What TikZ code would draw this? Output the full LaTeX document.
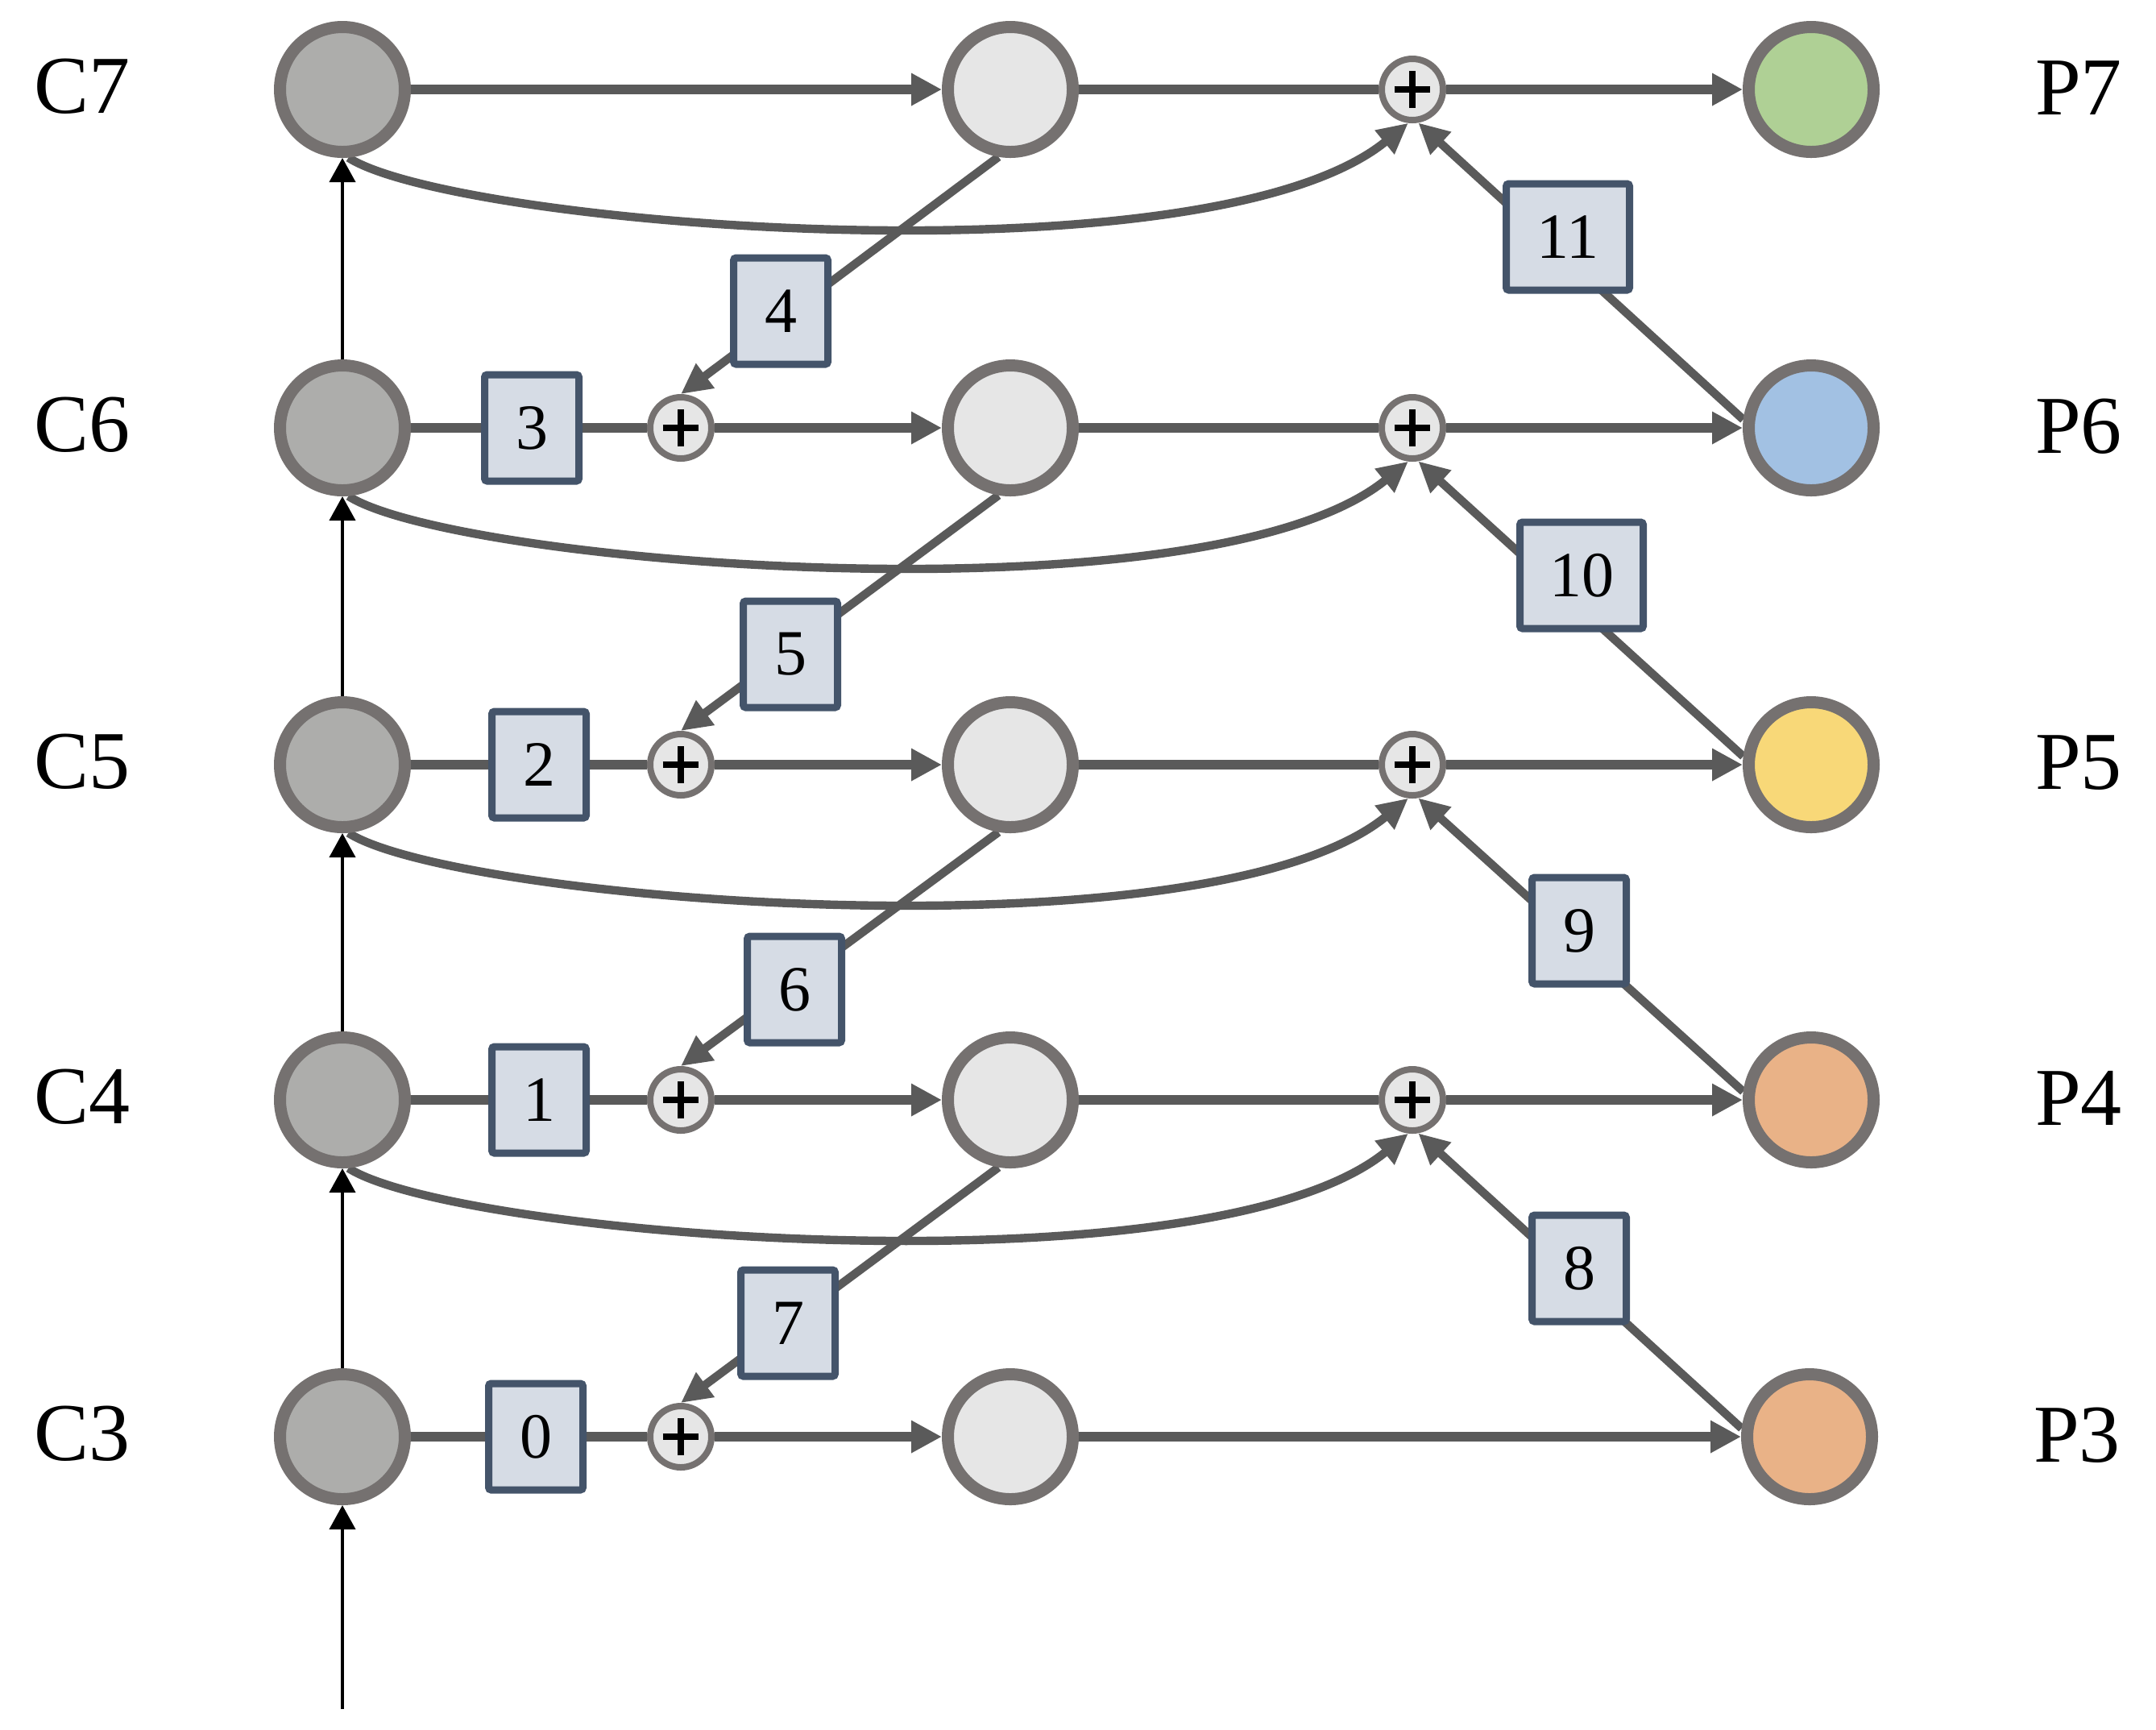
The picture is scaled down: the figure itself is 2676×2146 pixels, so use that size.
\documentclass[tikz,border=0pt]{standalone}
\usepackage{fontspec}
\setmainfont{Liberation Serif}
\usetikzlibrary{arrows.meta}
\pgfdeclarelayer{bg}
\pgfsetlayers{bg,main}
\definecolor{ring}{HTML}{757170}
\definecolor{cgray}{HTML}{ADADAB}
\definecolor{lgray}{HTML}{E6E6E6}
\definecolor{lc}{HTML}{5A5A5A}
\definecolor{boxb}{HTML}{44546A}
\definecolor{boxf}{HTML}{D6DCE5}
\definecolor{pgreen}{HTML}{AFD095}
\definecolor{pblue}{HTML}{A2C1E3}
\definecolor{pyellow}{HTML}{F8D878}
\definecolor{porange}{HTML}{E9B287}
\begin{document}
\begin{tikzpicture}[x=0.25pt,y=-0.25pt,
  cnode/.style={circle,draw=ring,line width=3.75pt,minimum size=38.75pt,inner sep=0pt},
  cfill/.style={cnode,fill=cgray},
  mfill/.style={cnode,fill=lgray},
  sumnode/.style={circle,draw=ring,fill=lgray,line width=2pt,minimum size=19pt,inner sep=0pt,
    path picture={
      \draw[black,line width=2pt] ([xshift=-5.6pt]path picture bounding box.center) -- ([xshift=5.6pt]path picture bounding box.center);
      \draw[black,line width=2pt] ([yshift=-5.8pt]path picture bounding box.center) -- ([yshift=5.8pt]path picture bounding box.center);}},
  numbox/.style={draw=boxb,fill=boxf,line width=2.25pt,minimum width=29.25pt,minimum height=33pt,inner sep=0pt,rounded corners=0.8pt,font=\fontsize{20}{21}\selectfont},
  wbox/.style={numbox,minimum width=38.25pt},
  lab/.style={font=\fontsize{25.5}{26}\selectfont,inner sep=0pt},
  conn/.style={draw=lc,line width=2.9pt},
  arr/.style={conn,-{Triangle[length=9.5pt,width=9.5pt]}},
  dconn/.style={draw=lc,line width=2.6pt,-{Triangle[length=9.5pt,width=9pt]}},
  uparr/.style={draw=black,line width=1pt,-{Triangle[length=7.5pt,width=8pt]}},
]
\useasboundingbox (0,0) rectangle (2676,2146);

% rows: 111, 531, 949, 1365, 1783
\node[cfill] (c7) at (425,111) {};
\node[cfill] (c6) at (425,531) {};
\node[cfill] (c5) at (425,949) {};
\node[cfill] (c4) at (425,1365) {};
\node[cfill] (c3) at (425,1783) {};

\node[mfill] (m7) at (1254,111) {};
\node[mfill] (m6) at (1254,531) {};
\node[mfill] (m5) at (1254,949) {};
\node[mfill] (m4) at (1254,1365) {};
\node[mfill] (m3) at (1254,1783) {};

\node[sumnode] (pl6) at (845,531) {};
\node[sumnode] (pl5) at (845,949) {};
\node[sumnode] (pl4) at (845,1365) {};
\node[sumnode] (pl3) at (845,1783) {};

\node[sumnode] (rp7) at (1753,111) {};
\node[sumnode] (rp6) at (1753,531) {};
\node[sumnode] (rp5) at (1753,949) {};
\node[sumnode] (rp4) at (1753,1365) {};

\node[cnode,fill=pgreen] (p7) at (2248,111) {};
\node[cnode,fill=pblue] (p6) at (2248,531) {};
\node[cnode,fill=pyellow] (p5) at (2248,949) {};
\node[cnode,fill=porange] (p4) at (2248,1365) {};
\node[cnode,fill=porange] (p3) at (2246,1783) {};

\node[lab] (lc7) at (102,107) {C7};
\node[lab] (lc6) at (102,527) {C6};
\node[lab] (lc5) at (102,945) {C5};
\node[lab] (lc4) at (102,1361) {C4};
\node[lab] (lc3) at (102,1779) {C3};
\node[lab] (lp7) at (2580,109) {P7};
\node[lab] (lp6) at (2580,529) {P6};
\node[lab] (lp5) at (2580,947) {P5};
\node[lab] (lp4) at (2580,1363) {P4};
\node[lab] (lp3) at (2578,1781) {P3};

\node[numbox] (b0) at (665,1783) {0};
\node[numbox] (b1) at (669,1365) {1};
\node[numbox] (b2) at (669,949) {2};
\node[numbox] (b3) at (660,531) {3};
\node[numbox] (b4) at (969,386) {4};
\node[numbox] (b5) at (981,812) {5};
\node[numbox] (b6) at (986,1228) {6};
\node[numbox] (b7) at (978,1642) {7};
\node[numbox] (b8) at (1960,1574) {8};
\node[numbox] (b9) at (1960,1155) {9};
\node[wbox] (b10) at (1963,714) {10};
\node[wbox] (b11) at (1946,294) {11};

\coordinate (in) at (425,2121);

\begin{pgfonlayer}{bg}
  % vertical thin arrows
  \draw[uparr] (in) -- (c3.south);
  \draw[uparr] (c3.north) -- (c4.south);
  \draw[uparr] (c4.north) -- (c5.south);
  \draw[uparr] (c5.north) -- (c6.south);
  \draw[uparr] (c6.north) -- (c7.south);
  % row 7
  \draw[arr] (c7) -- (m7);
  \draw[conn] (m7) -- (rp7);
  \draw[arr] (rp7) -- (p7);
  % row 6
  \draw[conn] (c6) -- (b3);
  \draw[conn] (b3) -- (pl6);
  \draw[arr] (pl6) -- (m6);
  \draw[conn] (m6) -- (rp6);
  \draw[arr] (rp6) -- (p6);
  % row 5
  \draw[conn] (c5) -- (b2);
  \draw[conn] (b2) -- (pl5);
  \draw[arr] (pl5) -- (m5);
  \draw[conn] (m5) -- (rp5);
  \draw[arr] (rp5) -- (p5);
  % row 4
  \draw[conn] (c4) -- (b1);
  \draw[conn] (b1) -- (pl4);
  \draw[arr] (pl4) -- (m4);
  \draw[conn] (m4) -- (rp4);
  \draw[arr] (rp4) -- (p4);
  % row 3
  \draw[conn] (c3) -- (b0);
  \draw[conn] (b0) -- (pl3);
  \draw[arr] (pl3) -- (m3);
  \draw[arr] (m3) -- (p3);
  % curves C -> right plus
  \draw[dconn] (c7.-85) .. controls +(132,85) and +(-249,203) .. (rp7.-97);
  \draw[dconn] (c6.-85) .. controls +(132,85) and +(-249,203) .. (rp6.-97);
  \draw[dconn] (c5.-85) .. controls +(132,85) and +(-249,203) .. (rp5.-97);
  \draw[dconn] (c4.-85) .. controls +(132,85) and +(-249,203) .. (rp4.-97);
  % diagonals mid -> left plus
  \draw[dconn] (m7.260) -- (pl6.north);
  \draw[dconn] (m6.260) -- (pl5.north);
  \draw[dconn] (m5.260) -- (pl4.north);
  \draw[dconn] (m4.260) -- (pl3.north);
  % diagonals P -> right plus
  \draw[dconn] (p6.173) -- (rp7.-80);
  \draw[dconn] (p5.173) -- (rp6.-80);
  \draw[dconn] (p4.173) -- (rp5.-80);
  \draw[dconn] (p3.173) -- (rp4.-80);
\end{pgfonlayer}
\end{tikzpicture}
\end{document}
